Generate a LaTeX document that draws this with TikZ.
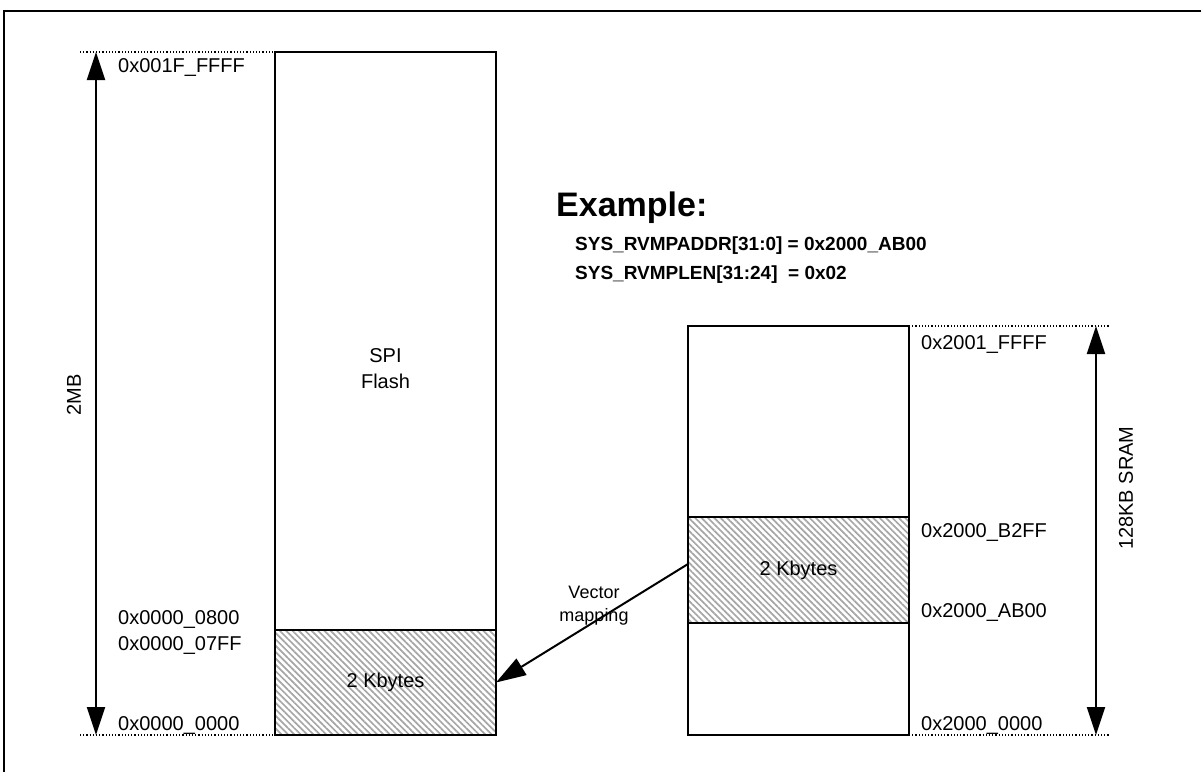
\documentclass[tikz,border=0pt]{standalone}
\usepackage{fontspec}
\setmainfont{Liberation Sans}
\usetikzlibrary{positioning,arrows.meta,patterns.meta}

\tikzset{
  memblk/.style={draw, line width=1.6pt, minimum width=221pt, inner sep=0pt, outer sep=0pt},
  hatchblk/.style={memblk, pattern={Lines[angle=-45,distance=4.5pt,line width=1.7pt]}, pattern color=gray!70},
  addr/.style={anchor=base west, inner sep=0pt, font=\fontsize{20}{24}\selectfont},
  sizearrow/.style={line width=2pt, {Triangle[length=28pt,width=18pt]}-{Triangle[length=28pt,width=18pt]}},
  guide/.style={dotted, line width=1.2pt},
}

\begin{document}
\begin{tikzpicture}[x=1pt,y=-1pt]
		\useasboundingbox (0,0) rectangle (1201,771);
		
		% outer frame
		\draw[line width=2pt] (3.5,800) -- (3.5,10.5) -- (1220,10.5);
		
		% SPI flash
		\node [memblk,
		minimum height=578pt
		]  (flash) at (385.5,341) {};
		
		\node [hatchblk,
		minimum height=105pt,
		font=\fontsize{20}{24}\selectfont,
		below= 0pt of flash
		]  (flashvec) {2 Kbytes};
		
		\node [align=center,
		font=\fontsize{20}{26}\selectfont
		]  (flashtxt) at (385.5,369) {SPI\\Flash};
		
		% SRAM
		\node [memblk,
		minimum height=191pt
		]  (sramtop) at (798.5,421.5) {};
		
		\node [hatchblk,
		minimum height=106pt,
		font=\fontsize{20}{24}\selectfont,
		below= 0pt of sramtop
		]  (sramvec) {2 Kbytes};
		
		\node [memblk,
		minimum height=112pt,
		below= 0pt of sramvec
		]  (srambot) {};
		
		% guides
		\coordinate (flashhi) at (80,52);
		\coordinate (flashlo) at (80,735);
		\coordinate (sramhi) at (1110,326);
		\coordinate (sramlo) at (1110,735);
		
		\draw[guide] (flashhi) -- (flash.north west);
		\draw[guide] (flashlo) -- (flashvec.south west);
		\draw[guide] (sramtop.north east) -- (sramhi);
		\draw[guide] (srambot.south east) -- (sramlo);
		
		% sizes
		\coordinate (flashup) at (96,52);
		\coordinate (flashdown) at (96,735);
		\coordinate (sramup) at (1096,326);
		\coordinate (sramdown) at (1096,735);
		
		\draw[sizearrow] (flashdown) -- (flashup);
		\draw[sizearrow] (sramdown) -- (sramup);
		
		\node [rotate=90, font=\fontsize{20}{24}\selectfont] (flashsize) at (74,395) {2MB};
		\node [rotate=90, font=\fontsize{20}{24}\selectfont] (sramsize) at (1126,488) {128KB SRAM};
		
		% addresses
		\node [addr] (a1) at (118,72) {0x001F\_FFFF};
		\node [addr] (a2) at (118,624) {0x0000\_0800};
		\node [addr] (a3) at (118,650) {0x0000\_07FF};
		\node [addr] (a4) at (118,730) {0x0000\_0000};
		
		\node [addr] (b1) at (921,349) {0x2001\_FFFF};
		\node [addr] (b2) at (921,537) {0x2000\_B2FF};
		\node [addr] (b3) at (921,617) {0x2000\_AB00};
		\node [addr] (b4) at (921,730) {0x2000\_0000};
		
		% example
		\node [anchor=base west, inner sep=0pt,
		font=\fontsize{34}{40}\bfseries
		]  (extitle) at (556,216) {Example:};
		
		\node [anchor=base west, inner sep=0pt,
		font=\fontsize{19}{24}\bfseries
		]  (exaddr) at (575,250) {SYS\_RVMPADDR[31:0] = 0x2000\_AB00};
		
		\node [anchor=base west, inner sep=0pt,
		font=\fontsize{19}{24}\bfseries
		]  (exlen) at (575,279) {SYS\_RVMPLEN[31:24] ~= 0x02};
		
		% mapping
		\node [align=center,
		font=\fontsize{18}{23}\selectfont
		]  (maptxt) at (594,606) {Vector\\mapping};
		
		\draw[line width=2pt, -{Triangle[length=30pt,width=19pt]}] ([yshift=6pt]sramvec.west) -- (flashvec.east);
		
		\end{tikzpicture}
\end{document}
